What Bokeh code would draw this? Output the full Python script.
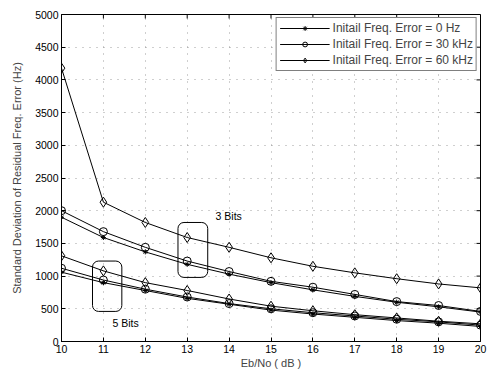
from bokeh.plotting import figure
from bokeh.models import Range1d, FixedTicker, Legend, LegendItem
from bokeh.embed import file_html
from bokeh.resources import INLINE
from bokeh.core.properties import value

# Eb/No (dB)
ebno = [10, 11, 12, 13, 14, 15, 16, 17, 18, 19, 20]

# 3 Bits
b3_0hz = [1900, 1590, 1370, 1180, 1030, 900, 790, 690, 600, 530, 450]
b3_30k = [2000, 1680, 1440, 1230, 1070, 920, 830, 720, 610, 550, 460]
b3_60k = [4180, 2130, 1820, 1590, 1440, 1280, 1150, 1050, 960, 880, 820]

# 5 Bits
b5_0hz = [1060, 900, 780, 660, 570, 480, 420, 370, 320, 280, 230]
b5_30k = [1120, 940, 800, 680, 580, 500, 440, 390, 340, 300, 250]
b5_60k = [1310, 1080, 900, 780, 650, 540, 470, 410, 360, 310, 270]

legend_labels = ["Initail Freq. Error = 0 Hz",
                 "Initail Freq. Error = 30 kHz",
                 "Initail Freq. Error = 60 kHz"]

x_ticks = list(range(10, 21))
y_ticks = list(range(0, 5001, 500))

# annotation groups: label, label position, enclosing box (left, right, bottom, top)
ann_labels = ["3 Bits", "5 Bits"]
ann_x = [13.99, 11.53]
ann_y = [1925, 290]
box_left = [12.78, 10.74]
box_right = [13.49, 11.44]
box_bottom = [980, 460]
box_top = [1820, 1230]

FONT = "Liberation Sans"
X0, X1, Y0, Y1 = 10, 20, 0, 5000
TICK_PX = 4

p = figure(width=490, height=374, output_backend="svg", toolbar_location=None,
           x_range=Range1d(X0, X1), y_range=Range1d(Y0, Y1),
           min_border_left=61, min_border_right=10, min_border_top=14, min_border_bottom=33)
p.background_fill_color = "white"
p.border_fill_color = "white"
p.outline_line_color = "black"
p.outline_line_width = 1

for ax in (p.xaxis[0], p.yaxis[0]):
    ax.major_tick_in = TICK_PX
    ax.major_tick_out = 0
    ax.minor_tick_in = 0
    ax.minor_tick_out = 0
    ax.major_label_text_font = FONT
    ax.major_label_text_font_size = "10.5px"
    ax.major_label_text_color = "black"
    ax.axis_label_text_font = FONT
    ax.axis_label_text_font_size = "11px"
    ax.axis_label_text_font_style = "normal"
    ax.axis_line_color = "black"
    ax.major_label_standoff = 3

p.xaxis[0].ticker = FixedTicker(ticks=x_ticks)
p.yaxis[0].ticker = FixedTicker(ticks=y_ticks)
p.xaxis[0].axis_label = "Eb/No ( dB )"
p.xaxis[0].axis_label_standoff = 1
p.yaxis[0].axis_label = "Standard Deviation of Residual Freq. Error (Hz)"
p.yaxis[0].axis_label_standoff = 9

# inward ticks on the top and right edges of the box (MATLAB style)
plot_w, plot_h = 490 - 61 - 10, 374 - 14 - 33
dy = TICK_PX * (Y1 - Y0) / plot_h
dx = TICK_PX * (X1 - X0) / plot_w
p.segment(x0=x_ticks, x1=x_ticks, y0=[Y1] * len(x_ticks), y1=[Y1 - dy] * len(x_ticks),
          line_color="black", line_width=1)
p.segment(x0=[X1] * len(y_ticks), x1=[X1 - dx] * len(y_ticks), y0=y_ticks, y1=y_ticks,
          line_color="black", line_width=1)

p.grid.grid_line_color = "#888888"
p.grid.grid_line_dash = "1 6"
p.grid.grid_line_alpha = 0.8
p.xgrid.ticker = FixedTicker(ticks=x_ticks)
p.ygrid.ticker = FixedTicker(ticks=y_ticks)

items = []
series3 = [b3_0hz, b3_30k, b3_60k]
series5 = [b5_0hz, b5_30k, b5_60k]
markers = ["asterisk", "circle", "diamond"]
msizes = [5, 8, 10]
for i in range(3):
    first = None
    for s in (series3[i], series5[i]):
        l = p.line(ebno, s, line_color="black", line_width=1)
        m = p.scatter(ebno, s, marker=markers[i], size=msizes[i],
                      line_color="black", fill_color=None, line_width=1)
        if first is None:
            first = [l, m]
    items.append(LegendItem(label=legend_labels[i], renderers=first))

p.quad(left=box_left, right=box_right, bottom=box_bottom, top=box_top,
       border_radius=6, fill_color=None, line_color="black", line_width=1)
p.text(x=ann_x, y=ann_y, text=ann_labels, text_font=value(FONT), text_font_size="10.5px",
       text_align="center", text_baseline="middle", text_color="black")

legend = Legend(items=items, location="top_right")
legend.label_text_font = FONT
legend.label_text_font_size = "12px"
legend.glyph_width = 50
legend.glyph_height = 12
legend.label_height = 12
legend.spacing = 2
legend.padding = 3
legend.margin = 3
legend.label_standoff = 3
legend.border_line_color = "black"
legend.border_line_width = 1
legend.background_fill_alpha = 1
p.add_layout(legend)

open("out.html", "w").write(file_html(p, INLINE))
